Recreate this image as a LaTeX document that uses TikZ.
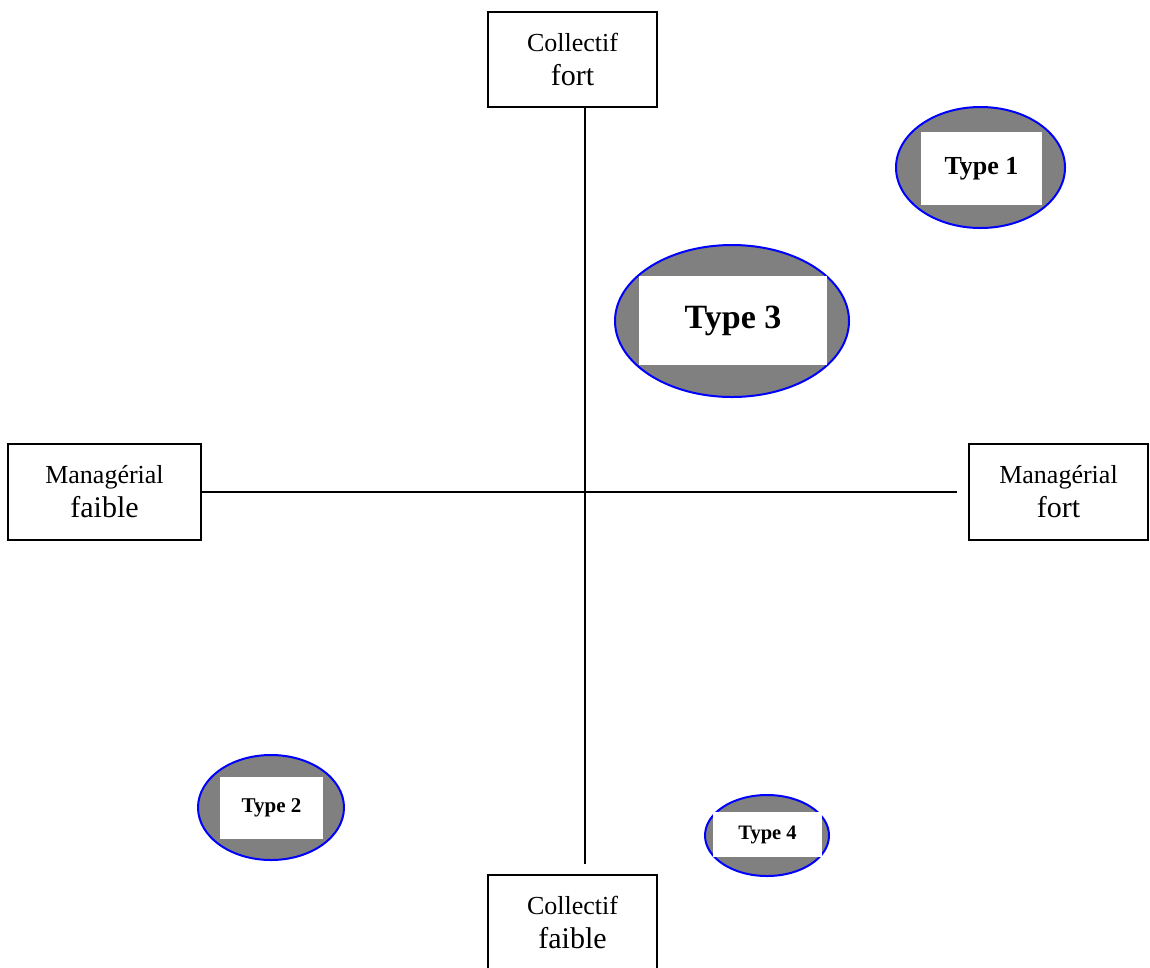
\documentclass[tikz,border=0pt]{standalone}
\usepackage{fontspec}
\setmainfont{Liberation Serif}
\usetikzlibrary{shapes.geometric}
\definecolor{typegray}{RGB}{128,128,128}
\newcommand{\bigtxt}{\fontsize{30}{34}\selectfont}

\begin{document}
\begin{tikzpicture}[x=1pt,y=-1pt,
  axebox/.style={draw, line width=1.4pt, align=center, inner sep=0pt,
    font=\fontsize{26}{34}\selectfont},
  typeell/.style={ellipse, draw=blue, fill=typegray, line width=2pt, inner sep=0pt},
  typelab/.style={fill=white, inner sep=0pt}]
\useasboundingbox (0,0) rectangle (1150,967); % adjust bounding box
% axis boxes
\node[axebox, minimum width=169, minimum height=95]
  (cfort) at (572.5,59.5) {Collectif\\{\bigtxt fort}};
\node[axebox, minimum width=169, minimum height=95]
  (cfaible) at (572.5,922.5) {Collectif\\{\bigtxt faible}};
\node[axebox, minimum width=193, minimum height=96]
  (mfaible) at (104.5,492) {Managérial\\{\bigtxt faible}};
\node[axebox, minimum width=179, minimum height=96]
  (mfort) at (1058.5,492) {Managérial\\{\bigtxt fort}};
% axes
\coordinate (vend) at (584.5,864);
\coordinate (hend) at (957,492);
\draw[line width=2pt] (cfort.south -| vend) -- (vend);
\draw[line width=2pt] (mfaible.east) -- (hend);
% types
\node[typeell, minimum width=169, minimum height=121] (ell1) at (980.5,167.5) {};
\node[typelab, minimum width=121, minimum height=73, font=\bfseries\fontsize{26}{30}\selectfont]
  (type1) at (981.5,168.5) {Type 1};
\node[typeell, minimum width=146, minimum height=105] (ell2) at (271,807.5) {};
\node[typelab, minimum width=103, minimum height=62, font=\bfseries\fontsize{21}{25}\selectfont]
  (type2) at (271.5,808) {Type 2};
\node[typeell, minimum width=234, minimum height=152] (ell3) at (732,321) {};
\node[typelab, minimum width=188, minimum height=89, font=\bfseries\fontsize{34}{40}\selectfont]
  (type3) at (733,320.5) {Type 3};
\node[typeell, minimum width=124, minimum height=81] (ell4) at (767,835.5) {};
\node[typelab, minimum width=109, minimum height=45, font=\bfseries\fontsize{20.5}{24}\selectfont]
  (type4) at (767.5,834.5) {Type 4};
\end{tikzpicture}
\end{document}
